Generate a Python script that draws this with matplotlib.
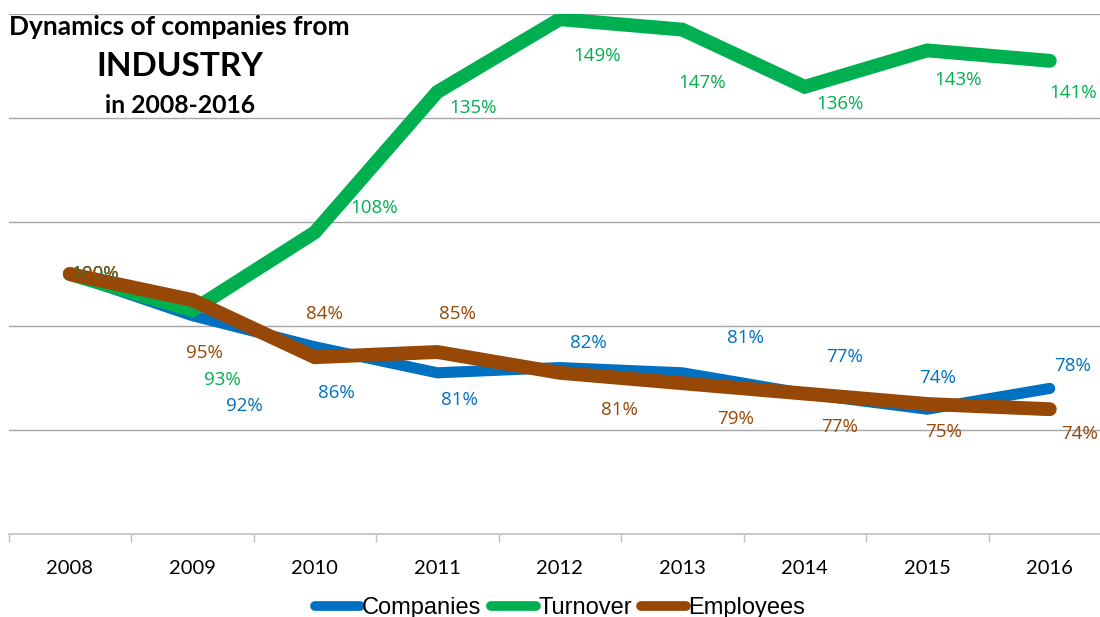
import matplotlib
matplotlib.use("Agg")
import matplotlib.pyplot as plt
from matplotlib.lines import Line2D

years = ["2008", "2009", "2010", "2011", "2012", "2013", "2014", "2015", "2016"]
companies = [100, 92, 86, 81, 82, 81, 77, 74, 78]
turnover = [100, 93, 108, 135, 149, 147, 136, 143, 141]
employees = [100, 95, 84, 85, 81, 79, 77, 75, 74]

# data label offsets in pixels (dx, dy), relative to the point
off_comp = [(25, 0), (52, -90), (22, -46), (22, -27), (29, 25), (63, 35), (40, 37), (10, 31), (23, 22)]
off_turn = [(25, 0), (30, -70), (59, 24), (36, -16), (37, -37), (20, -53), (35, -17), (31, -30), (23, -32)]
off_empl = [(25, 0), (12, -53), (10, 43), (20, 38), (60, -37), (53, -36), (35, -33), (16, -28), (30, -25)]

BLUE = "#0070C0"
GREEN = "#00B050"
BROWN = "#974706"

fig = plt.figure(figsize=(11, 6.17), dpi=100)
ax = fig.add_axes([8.5 / 1100, 83 / 617, 1102.5 / 1100, 520 / 617])

x = list(range(len(years)))
ax.plot(x, companies, color=BLUE, lw=8, solid_capstyle="round", solid_joinstyle="miter", zorder=3)
ax.plot(x, turnover, color=GREEN, lw=10, solid_capstyle="round", solid_joinstyle="miter", zorder=4)
ax.plot(x, employees, color=BROWN, lw=10, solid_capstyle="round", solid_joinstyle="miter", zorder=5)

lab_font = dict(family="Open Sans", fontsize=13.5, ha="center", va="center")
for vals, offs, col in [(companies, off_comp, BLUE), (turnover, off_turn, GREEN), (employees, off_empl, BROWN)]:
    for i, v in enumerate(vals):
        ax.annotate(f"{v}%", (i, v), xytext=offs[i], textcoords="offset pixels",
                    color=col, zorder=6, **lab_font)

ax.set_xlim(-0.5, 8.5)
ax.set_ylim(50, 150)
ax.set_yticks([70, 90, 110, 130, 150])
ax.yaxis.grid(True, color="#A6A6A6", lw=1)
ax.tick_params(axis="y", left=False, labelleft=False)
for s in ["top", "right", "left"]:
    ax.spines[s].set_visible(False)
ax.spines["bottom"].set_color("#BFBFBF")
ax.spines["bottom"].set_linewidth(1.2)

ax.set_xticks([i + 0.5 for i in range(-1, len(years))], minor=False)
ax.set_xticklabels([])
ax.tick_params(axis="x", which="major", direction="out", length=6, color="#BFBFBF", width=1)
ax.set_xticks(x, minor=True)
ax.set_xticklabels(years, minor=True, family="Lato", fontsize=14.5)
ax.tick_params(axis="x", which="minor", length=0, pad=19)

fig.text(179 / 1100, 1 - 27 / 617, "Dynamics of companies from", family="Lato", weight="bold",
         fontsize=19, ha="center", va="center")
fig.text(180 / 1100, 1 - 67 / 617, "INDUSTRY", family="Lato", weight="bold",
         fontsize=24, ha="center", va="center")
fig.text(180 / 1100, 1 - 106 / 617, "in 2008-2016", family="Lato", weight="bold",
         fontsize=17.8, ha="center", va="center")

handles = [Line2D([], [], color=c, lw=7, solid_capstyle="round") for c in (BLUE, GREEN, BROWN)]
fig.legend(handles, ["Companies", "Turnover", "Employees"], loc="center",
           bbox_to_anchor=(560 / 1100, 1 - 608 / 617), ncol=3, frameon=False,
           prop=dict(family="Liberation Sans", size=17), handlelength=1.9,
           handletextpad=0.1, columnspacing=0.4)

fig.savefig("out.png", dpi=100)
